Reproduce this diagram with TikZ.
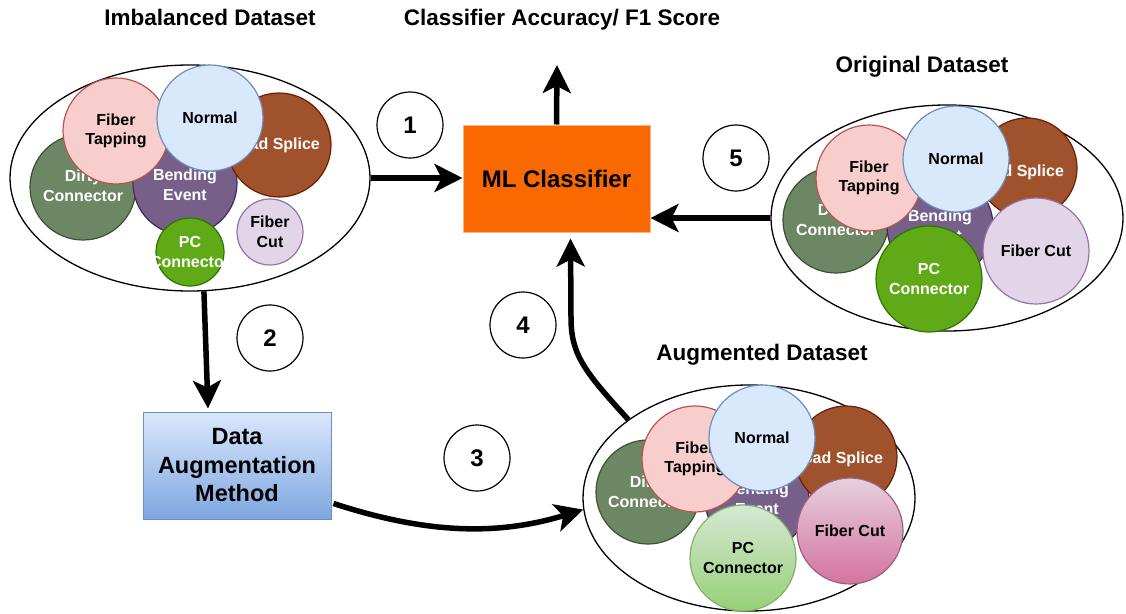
\documentclass[tikz,border=0pt]{standalone}
\usepackage{fontspec}
\setmainfont{Liberation Sans}
\usetikzlibrary{shapes.geometric,arrows.meta,calc}

\definecolor{dirtyF}{HTML}{6D8764}\definecolor{dirtyD}{HTML}{3A5431}
\definecolor{bendF}{HTML}{76608A}\definecolor{bendD}{HTML}{432D57}
\definecolor{spliceF}{HTML}{A0522D}\definecolor{spliceD}{HTML}{6D1F00}
\definecolor{tapF}{HTML}{F8CECC}\definecolor{tapD}{HTML}{B85450}
\definecolor{normF}{HTML}{DAE8FC}\definecolor{normD}{HTML}{6C8EBF}
\definecolor{pcF}{HTML}{60A917}\definecolor{pcD}{HTML}{2D7600}
\definecolor{cutF}{HTML}{E1D5E7}\definecolor{cutD}{HTML}{9673A6}
\definecolor{pcTop}{HTML}{D5E8D4}\definecolor{pcBot}{HTML}{97D077}\definecolor{pcLine}{HTML}{82B366}
\definecolor{cutTop}{HTML}{E6D0DE}\definecolor{cutBot}{HTML}{D5739D}\definecolor{cutLine}{HTML}{996185}
\definecolor{mlF}{HTML}{FA6800}\definecolor{mlD}{HTML}{FFB089}
\definecolor{augTop}{HTML}{DAE8FC}\definecolor{augBot}{HTML}{7EA6E0}

% one class circle with its label:
% [label shift] name, centre, diameter, fill, border, text colour, text
\newcommand{\classblob}[8][0,0]{%
  \node[blob,#5,draw=#6,minimum size=#4pt] (#2) at #3 {};
  \node[lbl,text=#7] at ($(#2)+(#1)$) {#8};}

\begin{document}
\begin{tikzpicture}[x=1pt,y=-1pt,
  blob/.style={circle,line width=1.2pt,inner sep=0pt},
  lbl/.style={font=\bfseries\fontsize{16}{19.5}\selectfont,align=center,inner sep=0pt},
  dataset/.style={ellipse,draw=black,line width=1.3pt,fill=white,inner sep=0pt},
  heading/.style={font=\bfseries\fontsize{22.5}{27}\selectfont,inner sep=0pt,anchor=base},
  badge/.style={circle,draw=black,line width=1.2pt,fill=white,minimum size=66pt,inner sep=0pt,
    font=\bfseries\fontsize{24}{28}\selectfont},
  flow/.style={line width=5.5pt,-{Stealth[length=28pt,width=28pt,inset=7pt]}}]

\fill[white] (0,0) rectangle (1126,613);
\useasboundingbox (0,0) rectangle (1126,613);

% headings
\node[heading] (t-imb) at (210,25) {Imbalanced Dataset};
\node[heading] (t-acc) at (562,25) {Classifier Accuracy/ F1 Score};
\node[heading] (t-orig) at (922,72) {Original Dataset};
\node[heading] (t-augm) at (762,360) {Augmented Dataset};

% imbalanced dataset
\node[dataset,minimum width=360pt,minimum height=226pt] (imb) at (190,178) {};
\classblob[0,-1]{i-dirty}{(83,187)}{106}{fill=dirtyF}{dirtyD}{white}{Dirty\\Connector}
\classblob[0,2]{i-bend}{(185,183)}{104}{fill=bendF}{bendD}{white}{Bending\\Event}
\classblob{i-splice}{(279,145)}{104}{fill=spliceF}{spliceD}{white}{Bad Splice}
\classblob{i-tap}{(116,131)}{106}{fill=tapF}{tapD}{black}{Fiber\\Tapping}
\classblob{i-norm}{(210,118)}{106}{fill=normF}{normD}{black}{Normal}
\classblob{i-pc}{(190,252)}{68}{fill=pcF}{pcD}{white}{PC\\Connector}
\classblob{i-cut}{(270,232)}{66}{fill=cutF}{cutD}{black}{Fiber\\Cut}

% original dataset
\node[dataset,minimum width=352pt,minimum height=226pt] (orig) at (947,218) {};
\classblob{o-dirty}{(836,220)}{106}{fill=dirtyF}{dirtyD}{white}{Dirty\\Connector}
\classblob{o-bend}{(940,226)}{106}{fill=bendF}{bendD}{white}{Bending\\Event}
\classblob[-4,4]{o-splice}{(1027,168)}{100}{fill=spliceF}{spliceD}{white}{Bad Splice}
\classblob{o-tap}{(869,178)}{106}{fill=tapF}{tapD}{black}{Fiber\\Tapping}
\classblob{o-norm}{(956,159)}{106}{fill=normF}{normD}{black}{Normal}
\classblob{o-pc}{(929,279)}{106}{fill=pcF}{pcD}{white}{PC\\Connector}
\classblob{o-cut}{(1036,251)}{106}{fill=cutF}{cutD}{black}{Fiber Cut}

% augmented dataset
\node[dataset,minimum width=332pt,minimum height=226pt] (augm) at (749,498) {};
\classblob{a-dirty}{(648,492)}{104}{fill=dirtyF}{dirtyD}{white}{Dirty\\Connector}
\classblob{a-bend}{(757,499)}{104}{fill=bendF}{bendD}{white}{Bending\\Event}
\classblob[-4,2]{a-splice}{(846,457)}{102}{fill=spliceF}{spliceD}{white}{Bad Splice}
\classblob{a-tap}{(695,459)}{106}{fill=tapF}{tapD}{black}{Fiber\\Tapping}
\classblob{a-norm}{(762,438)}{106}{fill=normF}{normD}{black}{Normal}
\classblob{a-pc}{(743,558)}{106}{top color=pcTop,bottom color=pcBot}{pcLine}{black}{PC\\Connector}
\classblob{a-cut}{(850,531)}{106}{top color=cutTop,bottom color=cutBot}{cutLine}{black}{Fiber Cut}

% process boxes
\node[draw=mlD,fill=mlF,line width=1pt,minimum width=187pt,minimum height=107pt,
  font=\bfseries\fontsize{24}{28}\selectfont] (ml) at (556.5,178.5) {ML Classifier};
\node[draw=normD,top color=augTop,bottom color=augBot,line width=1pt,minimum width=188pt,
  minimum height=107pt,align=center,font=\bfseries\fontsize{23.5}{28.5}\selectfont]
  (daug) at (237,465.5) {Data\\Augmentation\\Method};

% step numbers
\node[badge] (n1) at (410,125) {1};
\node[badge] (n2) at (270,338) {2};
\node[badge] (n3) at (477,458) {3};
\node[badge] (n4) at (523,325) {4};
\node[badge] (n5) at (736,158) {5};

% flows
\coordinate (acc-tip) at (557,65);
\draw[flow] (ml.north) -- (acc-tip);
\draw[flow] (imb.east) -- (imb.east -| ml.west);
\draw[flow] (orig.west) -- (orig.west -| ml.east);
\draw[flow] (imb.-83) -- ($(daug.north)+(-29,-3)$);
\draw[flow] ($(daug.south east)+(2,-16)$) .. controls (430,535) and (500,535) .. (augm.184);
\draw[flow] (augm.147) .. controls (585,372) and (571,355) .. (571,318) -- ($(ml.south)+(14,6)$);
\end{tikzpicture}
\end{document}
